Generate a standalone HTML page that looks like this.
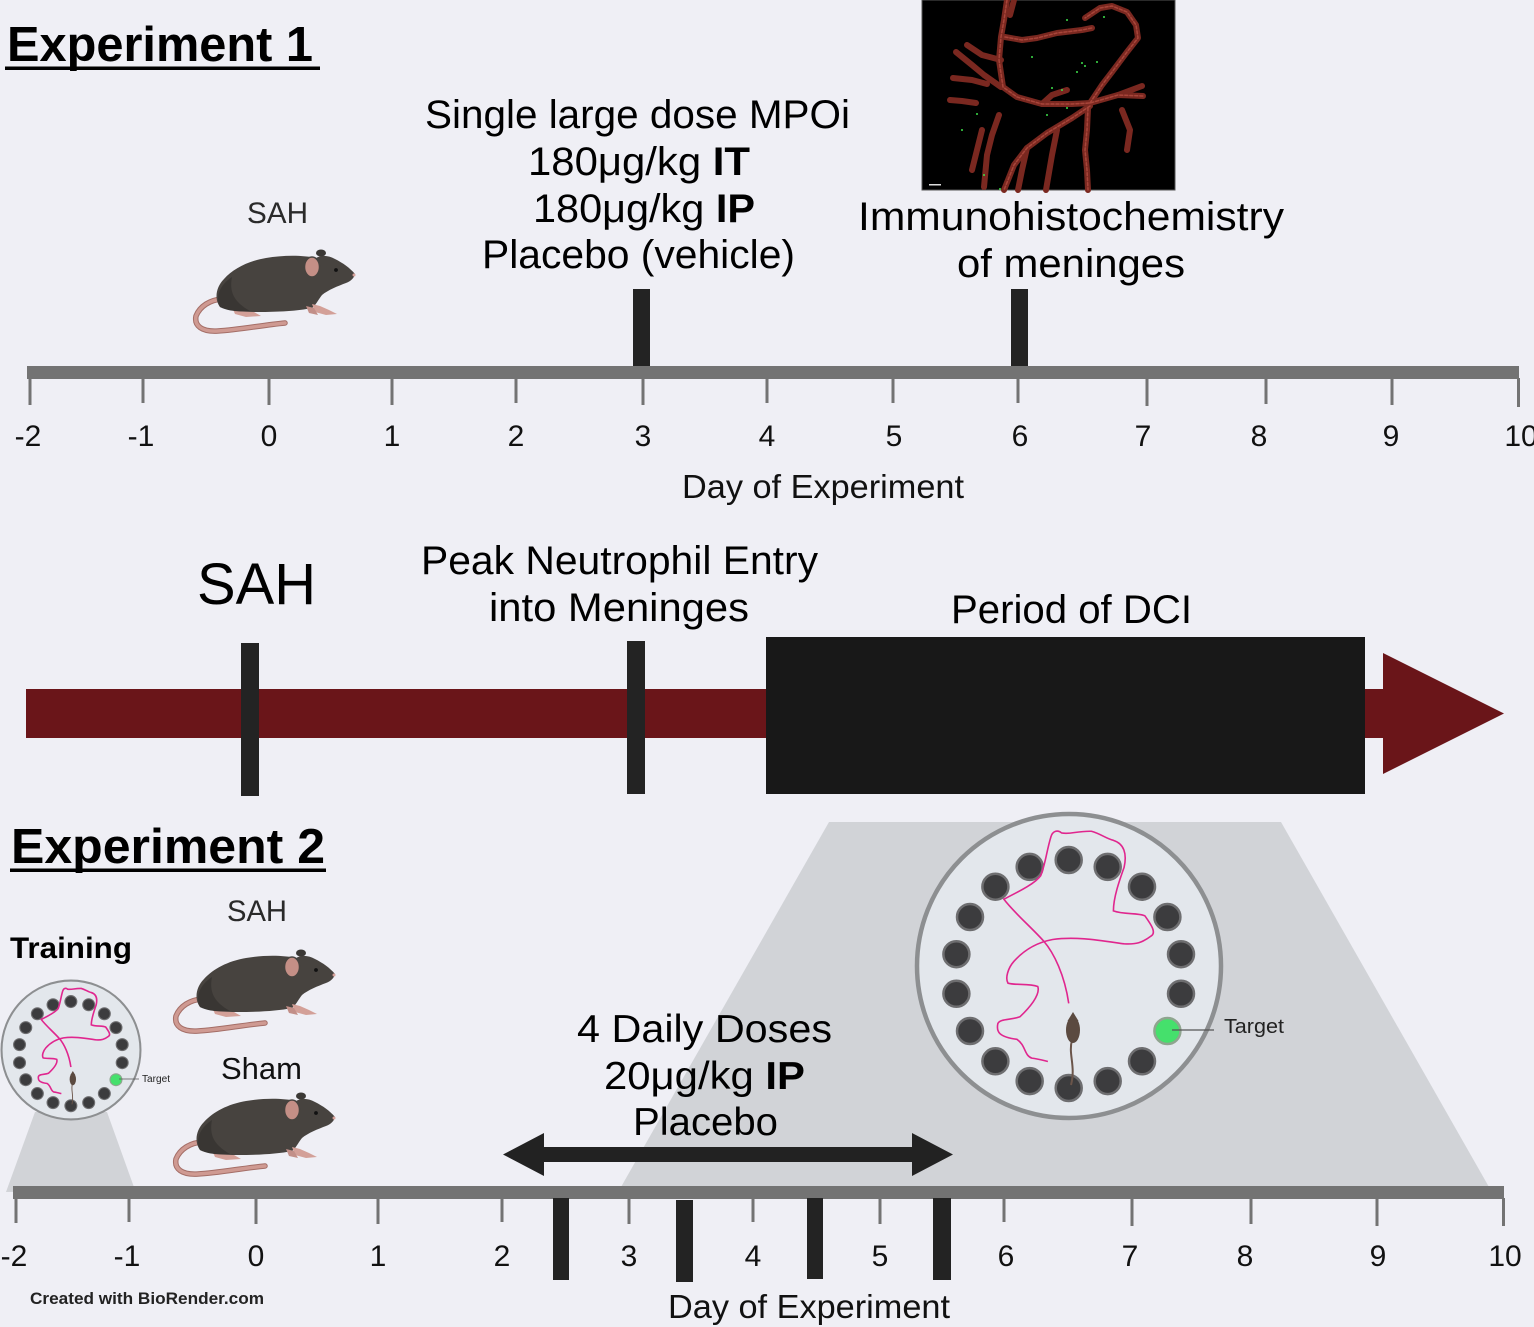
<!DOCTYPE html>
<html>
<head>
<meta charset="utf-8">
<style>
html,body{margin:0;padding:0;background:#efeff5;}
svg{display:block;}
text{font-family:"Liberation Sans","DejaVu Sans",sans-serif;}
</style>
</head>
<body>
<svg width="1534" height="1327" viewBox="0 0 1534 1327" xmlns="http://www.w3.org/2000/svg">
<defs>
  <g id="mouse">
    <path d="M34,55 C22,56 12,62 8,72 C6,82 14,88 30,87 C50,86 75,81 97,79" fill="none" stroke="#a46e67" stroke-width="5.5" stroke-linecap="round"/>
    <path d="M34,55 C22,56 12,62 8,72 C6,82 14,88 30,87 C50,86 75,81 97,79" fill="none" stroke="#cf9a92" stroke-width="3.5" stroke-linecap="round"/>
    <path d="M43,61 L47,70 L58,73 L73,72 L66,68 L58,64 Z" fill="#d3a098"/>
    <path d="M32,63 C26,55 28,43 36,35 C45,25 60,17 78,14 C95,11 115,11 128,14 C133,11 140,11 147,15 C155,19 162,24 167,30 C166,34 163,37 158,39 C150,42 140,46 134,51 C130,56 128,61 124,64 C110,67 90,68 70,68 C55,68 41,67 32,63 Z" fill="#47433f"/>
    <path d="M32,63 C27,52 32,41 44,33 C41,48 46,58 62,67 C50,68 40,67 32,63 Z" fill="#393633"/>
    <path d="M124,60 L127,68 L138,71 L149,70 L141,66 L132,62 Z" fill="#d3a098"/>
    <path d="M118,62 L121,69 L130,71 L126,64 Z" fill="#c28f88"/>
    <ellipse cx="133" cy="9" rx="5" ry="3.5" fill="#3b3835"/>
    <ellipse cx="124" cy="23" rx="7.5" ry="10" fill="#c48f86" stroke="#47433f" stroke-width="1.5"/>
    <circle cx="148" cy="26" r="1.9" fill="#111"/>
    <circle cx="166" cy="31" r="1.5" fill="#d6a19a"/>
  </g>
  <g id="maze">
    <circle cx="1069" cy="966" r="152" fill="#e3e7ec" stroke="#8d8f91" stroke-width="4.5"/>
    <g fill="#3c3c3e" stroke="#6e6e70" stroke-width="2.5">
      <circle cx="1068.7" cy="860" r="13"/>
      <circle cx="1107.7" cy="866.9" r="13"/>
      <circle cx="1142.0" cy="886.7" r="13"/>
      <circle cx="1167.4" cy="917" r="13"/>
      <circle cx="1181.0" cy="954.2" r="13"/>
      <circle cx="1181.0" cy="993.8" r="13"/>
      <circle cx="1142.0" cy="1061.3" r="13"/>
      <circle cx="1107.7" cy="1081.1" r="13"/>
      <circle cx="1068.7" cy="1088" r="13"/>
      <circle cx="1029.7" cy="1081.1" r="13"/>
      <circle cx="995.4" cy="1061.3" r="13"/>
      <circle cx="970.0" cy="1031" r="13"/>
      <circle cx="956.4" cy="993.8" r="13"/>
      <circle cx="956.4" cy="954.2" r="13"/>
      <circle cx="970.0" cy="917" r="13"/>
      <circle cx="995.4" cy="886.7" r="13"/>
      <circle cx="1029.7" cy="866.9" r="13"/>
    </g>
    <circle cx="1167.4" cy="1031" r="13" fill="#45e06c" stroke="#8fa58f" stroke-width="2.5"/>
    <g transform="translate(600,800) scale(0.5956,0.3361)">
      <path d="M787,605 C780,520 762,455 745,420 C725,380 695,335 678,295 C700,275 730,250 740,225 C748,190 750,150 757,110 C760,92 768,88 775,98 C790,103 800,92 825,93 C840,100 850,115 862,120 C880,130 885,160 880,200 C872,240 862,290 862,330 C880,342 905,335 915,345 C925,370 935,395 925,405 C910,425 900,430 880,428 C840,418 800,405 760,415 C730,425 710,450 695,480 C685,500 680,530 685,545 C700,552 720,545 735,555 C740,580 720,620 705,645 C690,655 672,650 668,665 C665,690 670,705 700,712 C715,730 712,760 725,768 C735,770 745,775 752,778" fill="none" stroke="#e0268e" stroke-width="1.6" vector-effect="non-scaling-stroke"/>
    </g>
    <path d="M1072,1040 C1068,1054 1076,1066 1071,1085" fill="none" stroke="#6b554a" stroke-width="2"/>
    <ellipse cx="1073" cy="1030" rx="7" ry="13" fill="#5b4a40"/>
    <path d="M1067.5,1021 L1073,1012 L1078.5,1021 Z" fill="#5b4a40"/>
  </g>
</defs>

<rect x="0" y="0" width="1534" height="1327" fill="#efeff5"/>

<!-- ========== EXPERIMENT 1 ========== -->
<text x="7" y="61" font-size="49" font-weight="bold" fill="#000" textLength="306" lengthAdjust="spacingAndGlyphs">Experiment 1</text>
<rect x="5" y="66.5" width="315" height="3.5" fill="#000"/>

<text x="247" y="223" font-size="30" fill="#2a2a2a" textLength="61" lengthAdjust="spacingAndGlyphs">SAH</text>
<use href="#mouse" transform="translate(188,244)"/>

<text x="425" y="128" font-size="40" fill="#000" textLength="425" lengthAdjust="spacingAndGlyphs">Single large dose MPOi</text>
<text x="528" y="175" font-size="40" fill="#000" textLength="222" lengthAdjust="spacingAndGlyphs">180μg/kg <tspan font-weight="bold">IT</tspan></text>
<text x="533" y="222" font-size="40" fill="#000" textLength="222" lengthAdjust="spacingAndGlyphs">180μg/kg <tspan font-weight="bold">IP</tspan></text>
<text x="482" y="268" font-size="40" fill="#000" textLength="313" lengthAdjust="spacingAndGlyphs">Placebo (vehicle)</text>

<!-- micrograph -->
<g transform="translate(922,0)">
  <rect x="0" y="0" width="253" height="190" fill="#000" stroke="#555" stroke-width="1"/>
  <g fill="none" stroke="#7a2820" stroke-width="6" stroke-linecap="round" stroke-linejoin="round">
    <path d="M85,0 L82,20 L79,37 L77,60 L81,87 L95,97 L120,104 L150,104 L168,103 L196,95 L221,96"/>
    <path d="M168,103 L180,85 L190,72 L205,52 L216,38 L214,25 L205,12 L190,6 L178,8 L163,18"/>
    <path d="M168,106 L150,118 L125,133 L105,148 L92,165 L82,190"/>
    <path d="M166,108 L165,130 L163,150 L165,170 L166,190"/>
    <path d="M34,52 L50,65 L62,75 L79,87"/>
    <path d="M31,78 L50,80 L65,84"/>
    <path d="M83,37 L100,40 L115,38 L135,33 L160,30 L170,28"/>
    <path d="M77,115 L70,135 L65,155 L62,187"/>
    <path d="M135,130 L130,155 L124,190"/>
    <path d="M54,103 L40,101 L28,100"/>
    <path d="M196,95 L220,86"/>
    <path d="M105,148 L100,170 L96,190"/>
    <path d="M79,60 L60,55 L45,45"/>
    <path d="M92,0 L88,15"/>
    <path d="M120,104 L130,95 L145,90"/>
    <path d="M60,130 L55,150 L50,170"/>
    <path d="M200,110 L208,130 L205,150"/>
  </g>
  <g fill="none" stroke="#a8453a" stroke-width="1.5" stroke-linecap="round" stroke-dasharray="3 2">
    <path d="M85,0 L82,20 L79,37 L77,60 L81,87 L95,97 L120,104 L150,104 L168,103 L196,95 L221,96"/>
    <path d="M168,103 L180,85 L190,72 L205,52 L216,38 L214,25 L205,12 L190,6 L178,8 L163,18"/>
    <path d="M168,106 L150,118 L125,133 L105,148 L92,165 L82,190"/>
    <path d="M166,108 L165,130 L163,150 L165,170 L166,190"/>
    <path d="M83,37 L100,40 L115,38 L135,33 L160,30 L170,28"/>
  </g>
  <g fill="#3de04a">
    <circle cx="160" cy="63" r="1"/><circle cx="155" cy="72" r="1"/><circle cx="163" cy="66" r="1"/>
    <circle cx="175" cy="62" r="1"/><circle cx="130" cy="88" r="1"/><circle cx="140" cy="90" r="1"/>
    <circle cx="145" cy="108" r="1"/><circle cx="125" cy="115" r="1"/><circle cx="55" cy="114" r="1"/>
    <circle cx="40" cy="130" r="1"/><circle cx="110" cy="57" r="1"/><circle cx="145" cy="20" r="1"/>
    <circle cx="182" cy="17" r="1"/><circle cx="62" cy="175" r="1"/><circle cx="78" cy="189" r="1"/>
  </g>
  <rect x="7" y="184" width="12" height="1.5" fill="#ddd"/>
</g>

<text x="858" y="230" font-size="40" fill="#000" textLength="426" lengthAdjust="spacingAndGlyphs">Immunohistochemistry</text>
<text x="957" y="277" font-size="40" fill="#000" textLength="228" lengthAdjust="spacingAndGlyphs">of meninges</text>

<!-- markers top -->
<rect x="633" y="289" width="17" height="78" fill="#232323"/>
<rect x="1011" y="289" width="17" height="78" fill="#232323"/>

<!-- top axis -->
<rect x="27" y="366" width="1492" height="13" fill="#737373"/>
<g fill="#737373">
  <rect x="28.5" y="378" width="3" height="27"/>
  <rect x="141.5" y="378" width="3" height="25"/>
  <rect x="267.5" y="378" width="3" height="27"/>
  <rect x="390.5" y="378" width="3" height="27"/>
  <rect x="514.5" y="378" width="3" height="25"/>
  <rect x="641.5" y="378" width="3" height="27"/>
  <rect x="765.5" y="378" width="3" height="25"/>
  <rect x="891.5" y="378" width="3" height="25"/>
  <rect x="1016.5" y="378" width="3" height="25"/>
  <rect x="1145.5" y="378" width="3" height="28"/>
  <rect x="1264.5" y="378" width="3" height="26"/>
  <rect x="1390.5" y="378" width="3" height="27"/>
  <rect x="1517" y="378" width="3" height="29"/>
</g>
<g font-size="30" fill="#111" text-anchor="middle">
  <text x="28" y="446">-2</text>
  <text x="141" y="446">-1</text>
  <text x="269" y="446">0</text>
  <text x="392" y="446">1</text>
  <text x="516" y="446">2</text>
  <text x="643" y="446">3</text>
  <text x="767" y="446">4</text>
  <text x="894" y="446">5</text>
  <text x="1020" y="446">6</text>
  <text x="1143" y="446">7</text>
  <text x="1259" y="446">8</text>
  <text x="1391" y="446">9</text>
  <text x="1521" y="446">10</text>
</g>
<text x="682" y="498" font-size="33" fill="#111" textLength="282" lengthAdjust="spacingAndGlyphs">Day of Experiment</text>

<!-- ========== MIDDLE TIMELINE ========== -->
<text x="197" y="604" font-size="58" fill="#000" textLength="119" lengthAdjust="spacingAndGlyphs">SAH</text>
<text x="421" y="574" font-size="40" fill="#000" textLength="397" lengthAdjust="spacingAndGlyphs">Peak Neutrophil Entry</text>
<text x="489" y="621" font-size="40" fill="#000" textLength="260" lengthAdjust="spacingAndGlyphs">into Meninges</text>
<text x="951" y="623" font-size="40" fill="#000" textLength="241" lengthAdjust="spacingAndGlyphs">Period of DCI</text>

<rect x="26" y="689" width="1360" height="49" fill="#6a1519"/>
<polygon points="1383,653 1504,713.5 1383,774" fill="#6a1519"/>
<rect x="766" y="637" width="599" height="157" fill="#181818"/>
<rect x="241" y="643" width="18" height="153" fill="#232323"/>
<rect x="627" y="641" width="18" height="153" fill="#232323"/>

<!-- ========== EXPERIMENT 2 ========== -->
<text x="11" y="863" font-size="49" font-weight="bold" fill="#000" textLength="314" lengthAdjust="spacingAndGlyphs">Experiment 2</text>
<rect x="10" y="868.5" width="316" height="3.5" fill="#000"/>

<!-- big trapezoid + maze -->
<polygon points="829,822 1281,822 1489,1187 621,1187" fill="#d1d3d7"/>
<use href="#maze"/>
<line x1="1172" y1="1030" x2="1214" y2="1030" stroke="#555" stroke-width="1.3"/>
<text x="1224" y="1033" font-size="20" fill="#222" textLength="60" lengthAdjust="spacingAndGlyphs">Target</text>

<!-- training pedestal + maze -->
<polygon points="35,1112 107,1112 135,1190 6,1192" fill="#d1d3d7"/>
<use href="#maze" transform="translate(71,1050) scale(0.457) translate(-1069,-966)"/>
<line x1="119" y1="1079" x2="139" y2="1079" stroke="#555" stroke-width="0.8"/>
<text x="142" y="1082" font-size="10" fill="#222" textLength="28" lengthAdjust="spacingAndGlyphs">Target</text>

<text x="10" y="958" font-size="30" font-weight="bold" fill="#000" textLength="122" lengthAdjust="spacingAndGlyphs">Training</text>
<text x="227" y="921" font-size="30" fill="#2a2a2a" textLength="60" lengthAdjust="spacingAndGlyphs">SAH</text>
<text x="221" y="1079" font-size="31" fill="#111" textLength="81" lengthAdjust="spacingAndGlyphs">Sham</text>
<use href="#mouse" transform="translate(168,944)"/>
<use href="#mouse" transform="translate(168,1087)"/>

<text x="577" y="1042" font-size="39" fill="#000" textLength="255" lengthAdjust="spacingAndGlyphs">4 Daily Doses</text>
<text x="604" y="1089" font-size="39" fill="#000" textLength="201" lengthAdjust="spacingAndGlyphs">20μg/kg <tspan font-weight="bold">IP</tspan></text>
<text x="633" y="1135" font-size="39" fill="#000" textLength="145" lengthAdjust="spacingAndGlyphs">Placebo</text>

<!-- double arrow -->
<rect x="541" y="1147" width="374" height="15" fill="#222"/>
<polygon points="503,1154.5 544,1133 544,1176" fill="#222"/>
<polygon points="953,1154.5 912,1133 912,1176" fill="#222"/>

<!-- bottom axis -->
<rect x="13" y="1186" width="1491" height="13" fill="#737373"/>
<g fill="#737373">
  <rect x="14.5" y="1198" width="3" height="25"/>
  <rect x="127.5" y="1198" width="3" height="24"/>
  <rect x="254.5" y="1198" width="3" height="26"/>
  <rect x="376.5" y="1198" width="3" height="26"/>
  <rect x="500.5" y="1198" width="3" height="24"/>
  <rect x="627.5" y="1198" width="3" height="26"/>
  <rect x="751.5" y="1198" width="3" height="24"/>
  <rect x="878.5" y="1198" width="3" height="26"/>
  <rect x="1002.5" y="1198" width="3" height="24"/>
  <rect x="1130.5" y="1198" width="3" height="28"/>
  <rect x="1249.5" y="1198" width="3" height="26"/>
  <rect x="1375.5" y="1198" width="3" height="28"/>
  <rect x="1502" y="1198" width="3" height="28"/>
</g>
<g fill="#232323">
  <rect x="553" y="1198" width="16" height="82"/>
  <rect x="676" y="1200" width="17" height="82"/>
  <rect x="807" y="1198" width="16" height="81"/>
  <rect x="933" y="1198" width="18" height="82"/>
</g>
<g font-size="30" fill="#111" text-anchor="middle">
  <text x="14" y="1266">-2</text>
  <text x="127" y="1266">-1</text>
  <text x="256" y="1266">0</text>
  <text x="378" y="1266">1</text>
  <text x="502" y="1266">2</text>
  <text x="629" y="1266">3</text>
  <text x="753" y="1266">4</text>
  <text x="880" y="1266">5</text>
  <text x="1006" y="1266">6</text>
  <text x="1130" y="1266">7</text>
  <text x="1245" y="1266">8</text>
  <text x="1378" y="1266">9</text>
  <text x="1505" y="1266">10</text>
</g>
<text x="668" y="1318" font-size="33" fill="#111" textLength="282" lengthAdjust="spacingAndGlyphs">Day of Experiment</text>
<text x="30" y="1304" font-size="17" font-weight="bold" fill="#222" textLength="234" lengthAdjust="spacingAndGlyphs">Created with BioRender.com</text>
</svg>
</body>
</html>
